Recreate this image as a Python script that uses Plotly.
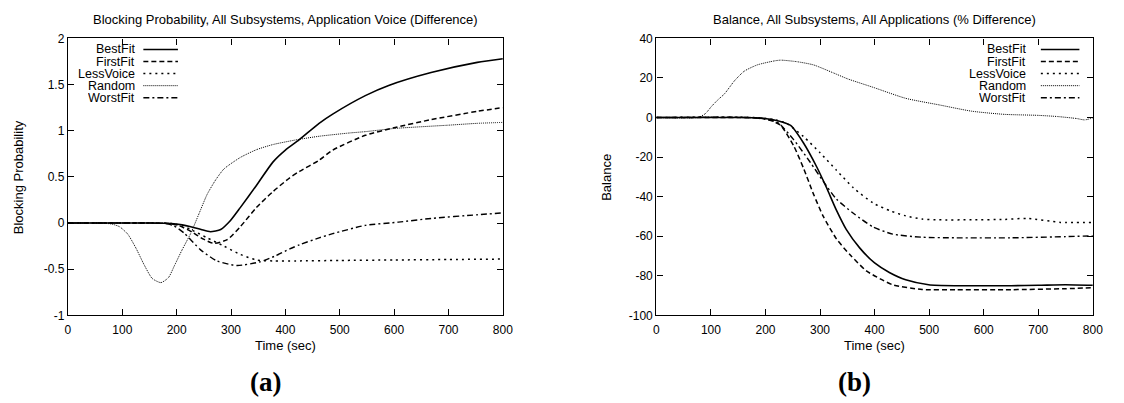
import plotly.graph_objects as go

W, H = 1124, 403

# ---------------- data: panel (a) Blocking Probability ----------------
a_best_t = [0, 150, 190, 210, 226, 245, 262, 281, 299, 317, 347, 377, 400, 425, 462, 487, 547, 590, 668, 753, 800]
a_best_v = [0, 0, -0.005, -0.02, -0.04, -0.07, -0.094, -0.069, 0.028, 0.167, 0.41, 0.66, 0.79, 0.90, 1.08, 1.18, 1.38, 1.49, 1.63, 1.74, 1.78]

a_first_t = [0, 150, 185, 205, 226, 248, 268, 293, 317, 347, 377, 408, 426, 462, 487, 547, 602, 668, 753, 800]
a_first_v = [0, 0, -0.005, -0.03, -0.09, -0.17, -0.22, -0.18, -0.04, 0.17, 0.34, 0.49, 0.56, 0.68, 0.79, 0.95, 1.035, 1.12, 1.21, 1.25]

a_less_t = [0, 150, 190, 210, 226, 256, 287, 317, 347, 377, 420, 500, 600, 700, 800]
a_less_v = [0, 0, -0.005, -0.03, -0.07, -0.16, -0.25, -0.34, -0.40, -0.41, -0.41, -0.405, -0.40, -0.395, -0.39]

a_rand_t = [0, 60, 80, 95, 110, 125, 140, 155, 171, 185, 196, 210, 226, 241, 256, 272, 287, 317, 347, 377, 419, 462, 517, 547, 602, 700, 753, 800]
a_rand_v = [0, 0, -0.01, -0.04, -0.12, -0.27, -0.45, -0.60, -0.645, -0.59, -0.46, -0.29, -0.11, 0.10, 0.31, 0.47, 0.586, 0.71, 0.795, 0.85, 0.90, 0.94, 0.975, 0.99, 1.025, 1.06, 1.08, 1.09]

a_worst_t = [0, 150, 180, 195, 214, 244, 274, 311, 353, 380, 408, 426, 462, 487, 547, 608, 668, 753, 800]
a_worst_v = [0, 0, -0.005, -0.03, -0.11, -0.29, -0.41, -0.46, -0.42, -0.36, -0.28, -0.235, -0.16, -0.115, -0.025, 0.01, 0.05, 0.09, 0.11]

# ---------------- data: panel (b) Balance ----------------
b_best_t = [0, 150, 191, 222, 246, 270, 294, 312, 330, 348, 373, 400, 427, 457, 499, 550, 600, 650, 700, 750, 800]
b_best_v = [0, 0, -0.3, -1.6, -4, -13, -25, -35.5, -46.8, -56.5, -66, -73.5, -78.3, -82, -84.5, -85, -85, -85, -84.8, -84.5, -84.8]

b_first_t = [0, 150, 191, 210, 228, 252, 270, 288, 306, 330, 355, 385, 410, 433, 487, 550, 650, 750, 800]
b_first_v = [0, 0, -0.3, -1.5, -4, -14.5, -25.8, -38.7, -50, -61.3, -69.4, -77.5, -81.5, -84.5, -86.9, -87, -87, -86.5, -86]

b_less_t = [0, 180, 215, 240, 270, 300, 330, 361, 397, 430, 457, 487, 518, 578, 638, 680, 741, 800]
b_less_v = [0, 0, -1, -3.2, -9.7, -17.8, -26.6, -35.5, -43.2, -47.3, -49.7, -51.3, -51.7, -51.7, -51.5, -51, -53, -53]

b_rand_t = [0, 76, 90, 101, 113, 125, 143, 161, 185, 216, 228, 258, 288, 324, 351, 397, 457, 518, 578, 638, 699, 735, 770, 785, 800]
b_rand_v = [0, 0, 2, 5.6, 9, 12, 18.5, 23.4, 26.6, 28.6, 29, 28.2, 26.6, 22.6, 19.5, 15.3, 9.7, 6.4, 3.2, 1.6, 1.1, 0.5, -0.5, -1.2, -0.2]

b_worst_t = [0, 170, 200, 222, 252, 282, 306, 330, 361, 397, 433, 487, 550, 650, 750, 800]
b_worst_v = [0, 0, -0.8, -2.4, -11.3, -22.6, -32.3, -41.2, -48.4, -55.3, -58.9, -60.5, -60.8, -60.8, -60.2, -59.8]

names = ["BestFit", "FirstFit", "LessVoice", "Random", "WorstFit"]
dashes = ["solid", "5px,3px", "2px,4px", "1px,1px", "6px,3px,2px,3px"]
widths = [1.6, 1.5, 1.5, 1.0, 1.4]

a_y_ticks = [-1, -0.5, 0, 0.5, 1, 1.5, 2]
a_y_text = ["-1", "-0.5", "0", "0.5", "1", "1.5", "2"]
b_y_ticks = [-100, -80, -60, -40, -20, 0, 20, 40]
b_y_text = ["-100", "-80", "-60", "-40", "-20", "0", "20", "40"]
x_ticks = [0, 100, 200, 300, 400, 500, 600, 700, 800]

FONT = "Liberation Sans, Arial, Helvetica, sans-serif"

def px(x):
    return x / W

def py(y):
    return 1 - y / H

fig = go.Figure()
series_a = [(a_best_t, a_best_v), (a_first_t, a_first_v), (a_less_t, a_less_v), (a_rand_t, a_rand_v), (a_worst_t, a_worst_v)]
series_b = [(b_best_t, b_best_v), (b_first_t, b_first_v), (b_less_t, b_less_v), (b_rand_t, b_rand_v), (b_worst_t, b_worst_v)]

for i, (t, v) in enumerate(series_a):
    fig.add_trace(go.Scatter(x=t, y=v, mode="lines", name=names[i], xaxis="x", yaxis="y",
                             line=dict(color="black", width=widths[i], dash=dashes[i], shape="spline", smoothing=0.6),
                             showlegend=False))
for i, (t, v) in enumerate(series_b):
    fig.add_trace(go.Scatter(x=t, y=v, mode="lines", name=names[i], xaxis="x2", yaxis="y2",
                             line=dict(color="black", width=widths[i], dash=dashes[i], shape="spline", smoothing=0.6),
                             showlegend=False))

ytop, ybot = 32.5, 319.5
ax_common = dict(showline=True, linecolor="black", linewidth=1.3, mirror="ticks", ticks="inside",
                 ticklen=6, tickwidth=1, tickcolor="black", showgrid=False, zeroline=False,
                 tickfont=dict(family=FONT, size=12, color="black"))

fig.update_layout(
    width=W, height=H, autosize=False,
    margin=dict(l=0, r=0, t=0, b=0),
    paper_bgcolor="white", plot_bgcolor="white",
    xaxis=dict(domain=[px(65.7), px(505.7)], range=[0, 800], tickvals=x_ticks, anchor="y",
               ticklabelstandoff=3, **ax_common),
    yaxis=dict(domain=[py(ybot), py(ytop)], range=[-1, 2], tickvals=a_y_ticks, ticktext=a_y_text, anchor="x", **ax_common),
    xaxis2=dict(domain=[px(661), px(1102.6)], range=[0, 800], tickvals=x_ticks, anchor="y2",
                ticklabelstandoff=3, **ax_common),
    yaxis2=dict(domain=[py(ybot), py(ytop)], range=[-100, 40], tickvals=b_y_ticks, ticktext=b_y_text, anchor="x2", **ax_common),
)

ann = []
def text(x, y, s, size=13, xanchor="center", angle=0, bold_serif=False, height=None):
    f = dict(family=FONT, size=size, color="black")
    if bold_serif:
        f = dict(family="Liberation Serif, Times New Roman, serif", size=size, color="black")
        s = "<b>" + s + "</b>"
    a = dict(x=px(x), y=py(y), xref="paper", yref="paper", text=s, showarrow=False,
             xanchor=xanchor, yanchor="middle", textangle=angle, font=f, borderpad=0)
    if height is not None:
        a["height"] = height
    ann.append(a)

text(285.7, 12.5, "Blocking Probability, All Subsystems, Application Voice (Difference)")
text(882, 12.5, "Balance, All Subsystems, All Applications (% Difference)")
text(16.5, 176, "Blocking Probability", angle=-90)
text(611, 176, "Balance", angle=-90)
text(285.7, 351, "Time (sec)")
text(882, 351, "Time (sec)")
text(265.5, 389, "(a)", size=27, bold_serif=True)
text(861, 389, "(b)", size=27, bold_serif=True)

legend_rows = [44, 56.5, 69, 81.5, 94]
shapes = []
for (tx, l0, l1) in [(135, 142, 177), (1036, 1050, 1089)]:
    for i, nm in enumerate(names):
        text(tx, legend_rows[i], nm, size=12.5, xanchor="right", height=12)
        shapes.append(dict(type="line", xref="paper", yref="paper", x0=px(l0), x1=px(l1),
                           y0=py(legend_rows[i]), y1=py(legend_rows[i]),
                           line=dict(color="black", width=widths[i], dash=dashes[i])))

fig.update_layout(annotations=ann, shapes=shapes)
fig.write_html("out.html")
